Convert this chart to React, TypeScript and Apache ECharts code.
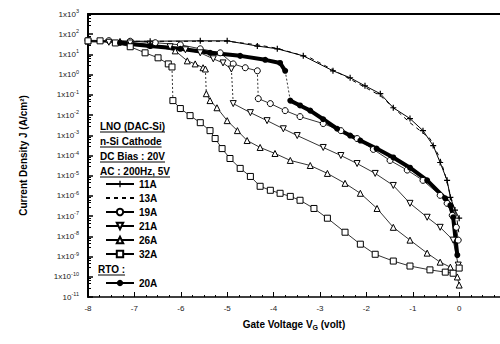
import React, { useEffect, useRef } from 'react';
import * as echarts from 'echarts';

// Gate voltage (V), current density J (A/cm^2).
// "Hi" = branch before the switching drop, "Lo" = branch after it.
const s11A: [number, number][] = [
  [-8.0, 45], [-6.66, 45], [-5.58, 47], [-5.0, 47], [-4.35, 26], [-3.92, 19], [-3.36, 8.5],
  [-2.72, 1.55], [-2.35, 0.7], [-2.03, 0.28], [-1.7, 0.114], [-1.42, 0.023], [-1.06, 0.0067],
  [-0.78, 0.0017], [-0.56, 3.1e-4], [-0.41, 4.5e-5], [-0.26, 5.9e-6], [-0.19, 8.5e-7],
  [-0.09, 2.0e-7], [0, 7.9e-8],
];
const s13A: [number, number][] = [
  [-8.0, 44], [-5.0, 45], [-4.35, 30], [-3.92, 20], [-3.21, 6.8], [-2.56, 1.1], [-1.7, 0.091],
  [-1.06, 0.0042], [-0.63, 6.9e-4], [-0.41, 7.1e-5], [-0.3, 1.04e-5], [-0.19, 1.07e-6],
  [-0.06, 1.1e-7], [0, 1.14e-8],
];
const s19AHi: [number, number][] = [
  [-8.0, 50], [-7.55, 48], [-7.09, 45], [-6.55, 38], [-6.01, 30], [-5.58, 19], [-5.15, 12],
  [-4.87, 3.4], [-4.61, 2.2], [-4.35, 1.55],
];
const s19ALo: [number, number][] = [
  [-4.33, 0.065], [-4.07, 0.037], [-3.75, 0.0166],
  [-3.43, 0.0084], [-2.93, 0.0038], [-2.55, 0.0017], [-2.2, 6.9e-4], [-1.85, 2.0e-4],
  [-1.49, 5.7e-5], [-1.12, 1.9e-5], [-0.78, 5.9e-6], [-0.41, 1.07e-6], [-0.26, 4.3e-7],
  [-0.15, 1.1e-7], [-0.06, 2.8e-8], [-0.02, 6.5e-9],
];
const s21AHi: [number, number][] = [
  [-8.0, 42], [-7.55, 40], [-7.09, 37], [-6.66, 30], [-6.23, 24], [-5.9, 17], [-5.58, 12],
  [-5.3, 6.1], [-5.09, 3.8], [-4.91, 1.9],
];
const s21ALo: [number, number][] = [
  [-4.87, 0.037], [-4.5, 0.0132], [-4.14, 0.0053],
  [-3.79, 0.0021], [-3.49, 9.7e-4], [-2.93, 2.5e-4], [-2.55, 1.0e-4], [-2.2, 4.0e-5],
  [-1.81, 1.3e-5], [-1.42, 3.3e-6], [-1.06, 4.3e-7], [-0.69, 8.8e-8], [-0.41, 2.8e-8],
  [-0.13, 6.5e-9], [-0.02, 3.8e-10],
];
const s26AHi: [number, number][] = [
  [-8.0, 46], [-7.31, 44], [-6.66, 30], [-6.12, 15], [-5.86, 4.8], [-5.69, 3.4], [-5.52, 2.2],
  [-5.47, 1.9],
];
const s26ALo: [number, number][] = [
  [-5.45, 0.114], [-5.37, 0.052], [-5.22, 0.023], [-5.0, 0.0053], [-4.78, 0.0017],
  [-4.57, 5.5e-4], [-4.29, 2.5e-4], [-3.97, 1.26e-4], [-3.64, 5.7e-5], [-3.21, 3.2e-5],
  [-2.84, 1.3e-5], [-2.46, 4.2e-6], [-2.13, 1.35e-6], [-1.77, 2.4e-7], [-1.42, 2.8e-8],
  [-1.06, 6.5e-9], [-0.69, 1.48e-9], [-0.41, 5.3e-10], [-0.19, 3.0e-10], [-0.04, 9.8e-11],
  [0, 3.9e-11],
];
const s32AHi: [number, number][] = [
  [-8.0, 47], [-7.74, 47], [-7.41, 37], [-7.09, 24], [-6.77, 12], [-6.49, 6.8], [-6.27, 3.4],
  [-6.19, 2.4],
];
const s32ALo: [number, number][] = [
  [-6.17, 0.052], [-6.01, 0.021], [-5.8, 0.0094], [-5.58, 0.0042], [-5.37, 0.0017],
  [-5.26, 6.9e-4], [-5.11, 2.2e-4], [-4.94, 7.1e-5], [-4.72, 2.3e-5], [-4.5, 9.2e-6],
  [-4.29, 3.0e-6], [-4.07, 1.9e-6], [-3.86, 1.35e-6], [-3.64, 9.5e-7], [-3.43, 6.1e-7],
  [-3.13, 2.4e-7], [-2.84, 7.9e-8], [-2.46, 1.6e-8], [-2.13, 4.1e-9], [-1.81, 1.3e-9],
  [-1.42, 6.0e-10], [-1.06, 3.4e-10], [-0.63, 2.2e-10], [-0.3, 1.7e-10], [-0.13, 1.5e-10],
  [0, 2.7e-10],
];
const s20AHi: [number, number][] = [
  [-7.31, 37], [-6.66, 26], [-6.01, 19], [-5.37, 12], [-4.72, 8.5], [-4.18, 5.4], [-3.86, 3.8],
  [-3.75, 1.55],
];
const s20ALo: [number, number][] = [
  [-3.64, 0.052], [-3.43, 0.03], [-3.21, 0.0166], [-2.93, 0.0062], [-2.63, 0.0021],
  [-2.35, 9.7e-4], [-2.13, 5.5e-4], [-1.78, 2.2e-4], [-1.42, 8.0e-5], [-1.06, 2.5e-5],
  [-0.69, 5.9e-6], [-0.3, 7.6e-7], [-0.19, 3.4e-7], [-0.13, 8.8e-8], [-0.04, 1.18e-9],
];

const legendA = ['11A', '13A', '19A', '21A', '26A', '32A'];
const legendB = ['20A'];
const headings = ['LNO (DAC-Si)', 'n-Si Cathode', 'DC Bias : 20V', 'AC : 200Hz, 5V'];
const rtoHeading = 'RTO :';

const FONT = '"Liberation Sans", Arial, sans-serif';
const plusSymbol = 'path://M4,0H6V10H4ZM0,4H10V6H0Z';

function textWidth(t: string, font: string): number {
  const c = document.createElement('canvas').getContext('2d');
  if (!c) return t.length * 6;
  c.font = font;
  return c.measureText(t).width;
}

export default function App() {
  const ref = useRef<HTMLDivElement>(null);
  useEffect(() => {
    const chart = echarts.init(ref.current!, null, { renderer: 'svg' });
    const lineBase = { type: 'line' as const, xAxisIndex: 0, yAxisIndex: 0 };
    const hollow = { color: '#fff', borderColor: '#000', borderWidth: 1 };
    const headFont = 'bold 10px "Liberation Sans"';
    const graphics: any[] = [];
    const headY = [127, 142, 157, 172];
    headings.forEach((h, i) => {
      const w = textWidth(h, headFont);
      graphics.push({
        type: 'text', left: 100, top: headY[i] - 6,
        style: { text: h, font: headFont, fill: '#000' },
      });
      graphics.push({
        type: 'line', shape: { x1: 100, y1: headY[i] + 5, x2: 100 + w, y2: headY[i] + 5 },
        style: { stroke: '#000', lineWidth: 1 },
      });
    });
    {
      const w = textWidth(rtoHeading, headFont);
      graphics.push({
        type: 'text', left: 98, top: 264,
        style: { text: rtoHeading, font: headFont, fill: '#000' },
      });
      graphics.push({
        type: 'line', shape: { x1: 98, y1: 275, x2: 98 + w, y2: 275 },
        style: { stroke: '#000', lineWidth: 1 },
      });
    }

    const branch = (name: string, data: [number, number][], sym: any, extra: any = {}) => ({
      ...lineBase, name, data, symbol: sym, symbolSize: 6,
      itemStyle: hollow, lineStyle: { color: '#000', width: 0.8 }, ...extra,
    });
    const drop = (hi: [number, number][], lo: [number, number][]) => ({
      ...lineBase, name: 'drop', data: [hi[hi.length - 1], lo[0]], symbol: 'none', silent: true,
      lineStyle: { color: '#000', width: 0.8, type: [2, 2] },
    });

    const down = { symbolRotate: 180 };
    const rto = {
      itemStyle: { color: '#000' }, lineStyle: { color: '#000', width: 4 },
    };

    const legendText = { fontSize: 10, fontWeight: 'bold', color: '#000', lineHeight: 10, fontFamily: FONT };
    const option: any = {
      animation: false,
      backgroundColor: '#fff',
      textStyle: { fontFamily: FONT },
      grid: { left: 88, right: 0, top: 14, bottom: 47 },
      legend: [
        {
          data: legendA.map((n) => (n === '13A' ? { name: n, itemStyle: { opacity: 0 } } : n)),
          orient: 'vertical', left: 100, top: 174, itemWidth: 28, itemHeight: 8,
          itemGap: 4, selectedMode: false, textStyle: legendText,
        },
        {
          data: legendB, orient: 'vertical', left: 100, top: 273, itemWidth: 28, itemHeight: 8,
          itemGap: 4, selectedMode: false, textStyle: legendText,
        },
      ],
      xAxis: [
        {
          type: 'value', min: -8, max: 0.88, interval: 1,
          name: '{t|Gate Voltage V}{g|G}{t| (volt)}', nameLocation: 'middle', nameGap: 21,
          nameTextStyle: {
            rich: {
              t: { fontSize: 10, fontWeight: 'bold', fontFamily: FONT, color: '#000' },
              g: { fontSize: 7, fontWeight: 'bold', fontFamily: FONT, color: '#000', padding: [6, 0, 0, 0] },
            },
          },
          axisLine: { onZero: false, lineStyle: { color: '#000', width: 1.5 } },
          axisTick: { inside: true, length: 5, lineStyle: { color: '#000', width: 1 } },
          minorTick: { show: true, splitNumber: 4, length: 2, lineStyle: { color: '#000' } },
          splitLine: { show: false },
          axisLabel: {
            fontSize: 8, color: '#222', margin: 7, fontFamily: FONT, showMaxLabel: false,
            formatter: (v: number) => (Number.isInteger(v) ? String(v) : ''),
          },
        },
        {
          type: 'value', position: 'top', min: -8, max: 0.88,
          axisLine: { show: true, onZero: false, lineStyle: { color: '#000', width: 2 } },
          axisTick: { show: false }, axisLabel: { show: false }, splitLine: { show: false },
        },
      ],
      yAxis: {
        type: 'log', logBase: 10, min: 1e-11, max: 1e3, interval: 1,
        name: 'Current Density J (A/cm²)', nameLocation: 'middle', nameGap: 60, nameRotate: 90,
        nameTextStyle: { fontSize: 10, fontWeight: 'bold', color: '#000', fontFamily: FONT },
        axisLine: { show: true, onZero: false, lineStyle: { color: '#000', width: 2 } },
        axisTick: { inside: true, length: 5, lineStyle: { color: '#000', width: 1.5 } },
        minorTick: { show: true, splitNumber: 5, length: 3, lineStyle: { color: '#000', width: 1 } },
        splitLine: { show: false },
        axisLabel: {
          margin: 9, color: '#222',
          formatter: (v: number) => {
            const n = Math.round(Math.log10(v));
            return n === -11 ? `{m|10}{s|${n}}` : `{m|1x10}{s|${n}}`;
          },
          rich: {
            m: { fontSize: 8, fontFamily: FONT, color: '#222' },
            s: { fontSize: 5.5, fontFamily: FONT, color: '#222', padding: [0, 0, 6, 0] },
          },
        },
      },
      series: [
        { ...lineBase, name: '11A', data: s11A, symbol: plusSymbol, symbolSize: 6,
          itemStyle: { color: '#000' }, lineStyle: { color: '#000', width: 1 } },
        { ...lineBase, name: '13A', data: s13A, symbol: 'none',
          itemStyle: { color: '#000' }, lineStyle: { color: '#000', width: 1, type: [4, 4] } },
        branch('19A', s19AHi, 'circle'), drop(s19AHi, s19ALo), branch('19A', s19ALo, 'circle'),
        branch('21A', s21AHi, 'triangle', down), drop(s21AHi, s21ALo), branch('21A', s21ALo, 'triangle', down),
        branch('26A', s26AHi, 'triangle'), drop(s26AHi, s26ALo), branch('26A', s26ALo, 'triangle'),
        branch('32A', s32AHi, 'rect'), drop(s32AHi, s32ALo), branch('32A', s32ALo, 'rect'),
        branch('20A', s20AHi, 'circle', rto), drop(s20AHi, s20ALo), branch('20A', s20ALo, 'circle', rto),
      ],
      graphic: graphics,
    };
    chart.setOption(option);
    return () => chart.dispose();
  }, []);
  return (
    <div
      ref={ref}
      style={{ position: 'absolute', left: 0, top: 0, width: 500, height: 344, background: '#fff' }}
    />
  );
}
